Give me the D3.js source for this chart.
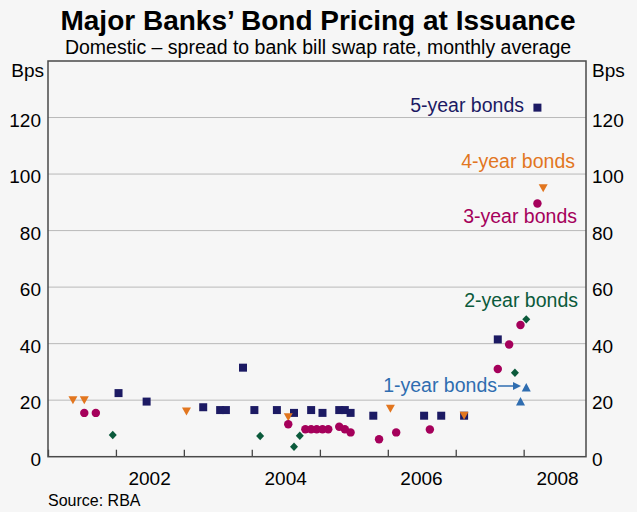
<!DOCTYPE html>
<html>

<head>
    <meta charset="utf-8">
    <title>Major Banks' Bond Pricing at Issuance</title>
    <script type="text/javascript" src="https://cdn.jsdelivr.net/npm/d3@7"></script>
    <style>
        body { margin: 0; background: #f6f6f6; }
        text { font-family: "Liberation Sans", Arial, sans-serif; }
    </style>
</head>

<body>
    <svg id="chartSvg"></svg>
</body>

<script>
    // monthly averages, spread to bank bill swap rate (bps)
    let bonds5yMonths = ["2002-01", "2002-06", "2003-04", "2003-07", "2003-08", "2003-11", "2004-01", "2004-05", "2004-08", "2004-11",
        "2005-01", "2005-04", "2005-05", "2005-06", "2005-10", "2006-07", "2006-10", "2007-02", "2007-08", "2008-03"];
    let bonds5yValues = [22.5, 19.5, 17.5, 16.5, 16.5, 31.5, 16.5, 16.5, 15.5, 16.5,
        15.5, 16.5, 16.5, 15.5, 14.5, 14.5, 14.5, 14.5, 41.5, 123.5];

    let bonds4yMonths = ["2001-05", "2001-07", "2003-01", "2004-07", "2006-01", "2007-02", "2008-04"];
    let bonds4yValues = [20, 20, 16, 14, 17, 14.5, 95];

    let bonds3yMonths = ["2001-07", "2001-09", "2004-07", "2004-10", "2004-11", "2004-12", "2005-01", "2005-02",
        "2005-04", "2005-05", "2005-06", "2005-11", "2006-02", "2006-08", "2007-08", "2007-10", "2007-12", "2008-03"];
    let bonds3yValues = [15.5, 15.5, 11.5, 9.7, 9.7, 9.7, 9.7, 9.7,
        10.6, 9.7, 8.6, 6.2, 8.6, 9.6, 31, 39.7, 46.6, 89.6];

    let bonds2yMonths = ["2001-12", "2004-02", "2004-08", "2004-09", "2007-11", "2008-01"];
    let bonds2yValues = [7.7, 7.3, 3.5, 7.4, 29.7, 48.6];

    let bonds1yMonths = ["2007-12", "2008-01"];
    let bonds1yValues = [19.5, 24.5];

    let yTicks = [0, 20, 40, 60, 80, 100, 120];
    let yearLabels = [2002, 2004, 2006, 2008];
</script>

<script>
    let SVGWIDTH = 637, SVGHEIGHT = 512;
    let plot = { left: 48, right: 586, top: 61, bottom: 456.7 };
    let bgcolor = "#f6f6f6";

    let parseMonth = d3.timeParse("%Y-%m");
    let toPoints = (months, values) => months.map((m, i) => ({ date: d3.timeDay.offset(parseMonth(m), 14), value: values[i] }));

    let series = [
        { name: "5-year bonds", color: "#1c1a63", shape: "square", data: toPoints(bonds5yMonths, bonds5yValues) },
        { name: "4-year bonds", color: "#e2761f", shape: "down", data: toPoints(bonds4yMonths, bonds4yValues) },
        { name: "3-year bonds", color: "#a5005b", shape: "circle", data: toPoints(bonds3yMonths, bonds3yValues) },
        { name: "2-year bonds", color: "#0b5a3b", shape: "diamond", data: toPoints(bonds2yMonths, bonds2yValues) },
        { name: "1-year bonds", color: "#2f6db0", shape: "up", data: toPoints(bonds1yMonths, bonds1yValues) }
    ];

    let shapes = {
        square: d3.symbol(d3.symbolSquare, 64)(),
        circle: d3.symbol(d3.symbolCircle, 56)(),
        down: "M-4.5,-4L4.5,-4L0,4Z",
        up: "M-4.5,4L4.5,4L0,-4.5Z",
        diamond: "M0,-4.2L4,0L0,4.2L-4,0Z"
    };

    let xScale = d3.scaleTime()
        .domain([new Date(2001, 0, 1), new Date(2008, 11, 1)])
        .range([plot.left, plot.right]);
    let yScale = d3.scaleLinear().domain([0, 140]).range([plot.bottom, plot.top]);

    let svg = d3.select("#chartSvg")
        .attr("width", SVGWIDTH).attr("height", SVGHEIGHT)
        .style("background-color", bgcolor);

    // titles
    svg.append("text").attr("x", 318).attr("y", 30)
        .attr("text-anchor", "middle").attr("font-size", 28).attr("font-weight", "bold")
        .text("Major Banks’ Bond Pricing at Issuance");
    svg.append("text").attr("x", 318).attr("y", 54)
        .attr("text-anchor", "middle").attr("font-size", 19.5)
        .text("Domestic – spread to bank bill swap rate, monthly average");

    // gridlines
    svg.append("g").selectAll("line")
        .data(yTicks.filter(d => d > 0))
        .enter().append("line")
        .attr("x1", plot.left).attr("x2", plot.right)
        .attr("y1", d => yScale(d)).attr("y2", d => yScale(d))
        .attr("stroke", "#b9b9b9").attr("stroke-width", 1);

    // y axis labels, both sides
    let yLabels = svg.append("g").attr("font-size", 19);
    yLabels.selectAll(".yl").data(yTicks).enter().append("text")
        .attr("x", plot.left - 7).attr("y", d => yScale(d) + 9)
        .attr("text-anchor", "end").text(d => d);
    yLabels.selectAll(".yr").data(yTicks).enter().append("text")
        .attr("x", plot.right + 6).attr("y", d => yScale(d) + 9)
        .attr("text-anchor", "start").text(d => d);
    yLabels.append("text").attr("x", plot.left - 4).attr("y", 77).attr("text-anchor", "end").text("Bps");
    yLabels.append("text").attr("x", plot.right + 6).attr("y", 77).attr("text-anchor", "start").text("Bps");

    // x axis, year ticks pointing inward
    let xAxis = svg.append("g")
        .attr("transform", "translate(0," + plot.bottom + ")")
        .call(d3.axisBottom(xScale).ticks(d3.timeYear.every(1)).tickSize(-7).tickFormat(""));
    xAxis.select(".domain").remove();
    xAxis.selectAll("line").attr("stroke", "#444").attr("stroke-width", 1.3);

    svg.append("g").attr("font-size", 19).selectAll("text")
        .data(yearLabels).enter().append("text")
        .attr("x", d => xScale(new Date(d, 6, 1)))
        .attr("y", 485).attr("text-anchor", "middle")
        .text(d => d);

    // frame
    svg.append("rect")
        .attr("x", plot.left).attr("y", plot.top)
        .attr("width", plot.right - plot.left).attr("height", plot.bottom - plot.top)
        .attr("fill", "none").attr("stroke", "#4a4a4a").attr("stroke-width", 1.5);

    // markers
    for (let s of series) {
        svg.append("g").selectAll("path")
            .data(s.data).enter().append("path")
            .attr("d", shapes[s.shape])
            .attr("transform", d => "translate(" + xScale(d.date) + "," + yScale(d.value) + ")")
            .attr("fill", s.color);
    }

    // series labels
    let labelPos = [
        { x: 524, y: 112 },
        { x: 575, y: 168 },
        { x: 577, y: 223 },
        { x: 578, y: 307 },
        { x: 497, y: 392 }
    ];
    svg.append("g").attr("font-size", 19.5).selectAll("text")
        .data(series).enter().append("text")
        .attr("x", (d, i) => labelPos[i].x).attr("y", (d, i) => labelPos[i].y)
        .attr("text-anchor", "end").attr("fill", d => d.color)
        .text(d => d.name);

    // arrow from 1-year label
    let blue = series[4].color;
    svg.append("line").attr("x1", 498).attr("x2", 514).attr("y1", 386).attr("y2", 386)
        .attr("stroke", blue).attr("stroke-width", 1.5);
    svg.append("path").attr("d", "M513,382L521,386L513,390Z").attr("fill", blue);

    // source
    svg.append("text").attr("x", 48).attr("y", 506).attr("font-size", 16).text("Source: RBA");
</script>

</html>
